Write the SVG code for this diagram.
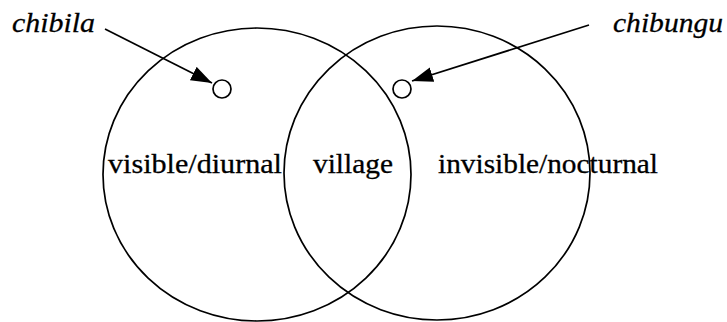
<svg xmlns="http://www.w3.org/2000/svg" width="727" height="322" viewBox="0 0 727 322">
  <style>
    .ring { fill: none; stroke: #000; stroke-width: 1.7; }
    .dot { fill: #fff; stroke: #000; stroke-width: 1.7; }
    .lbl { font-family: "Liberation Serif", "Times New Roman", serif; font-size: 28px; fill: #000; stroke: #000; stroke-width: 0.3; }
    .it { font-style: italic; }
    .conn { stroke: #000; stroke-width: 1.7; fill: none; }
  </style>
  <defs>
    <marker id="ah" markerUnits="userSpaceOnUse" markerWidth="24" markerHeight="16" refX="21" refY="7.5" orient="auto">
      <path d="M0,0 L21,7.5 L0,15 Z" fill="#000"/>
    </marker>
  </defs>
  <rect width="727" height="322" fill="#fff"/>
  <g id="left-circle">
    <ellipse class="ring" cx="257" cy="174.5" rx="154" ry="146.5"/>
  </g>
  <g id="right-circle">
    <ellipse class="ring" cx="437" cy="173" rx="153" ry="147"/>
  </g>
  <g id="chibila-point">
    <circle class="dot" cx="222" cy="89" r="9"/>
  </g>
  <g id="chibungu-point">
    <circle class="dot" cx="402" cy="89" r="9"/>
  </g>
  <g id="label-chibila">
    <text class="lbl it" x="12" y="32" textLength="83" lengthAdjust="spacingAndGlyphs">chibila</text>
  </g>
  <g id="label-chibungu">
    <text class="lbl it" x="613" y="32" textLength="110" lengthAdjust="spacingAndGlyphs">chibungu</text>
  </g>
  <g id="label-visible">
    <text class="lbl" x="108" y="173" textLength="174" lengthAdjust="spacingAndGlyphs">visible/diurnal</text>
  </g>
  <g id="label-village">
    <text class="lbl" x="313" y="173" textLength="80" lengthAdjust="spacingAndGlyphs">village</text>
  </g>
  <g id="label-invisible">
    <text class="lbl" x="438" y="173" textLength="220" lengthAdjust="spacingAndGlyphs">invisible/nocturnal</text>
  </g>
  <g id="connectors">
    <line class="conn" x1="105" y1="29" x2="212" y2="83" marker-end="url(#ah)"/>
    <line class="conn" x1="589" y1="25" x2="412" y2="81" marker-end="url(#ah)"/>
  </g>
</svg>
